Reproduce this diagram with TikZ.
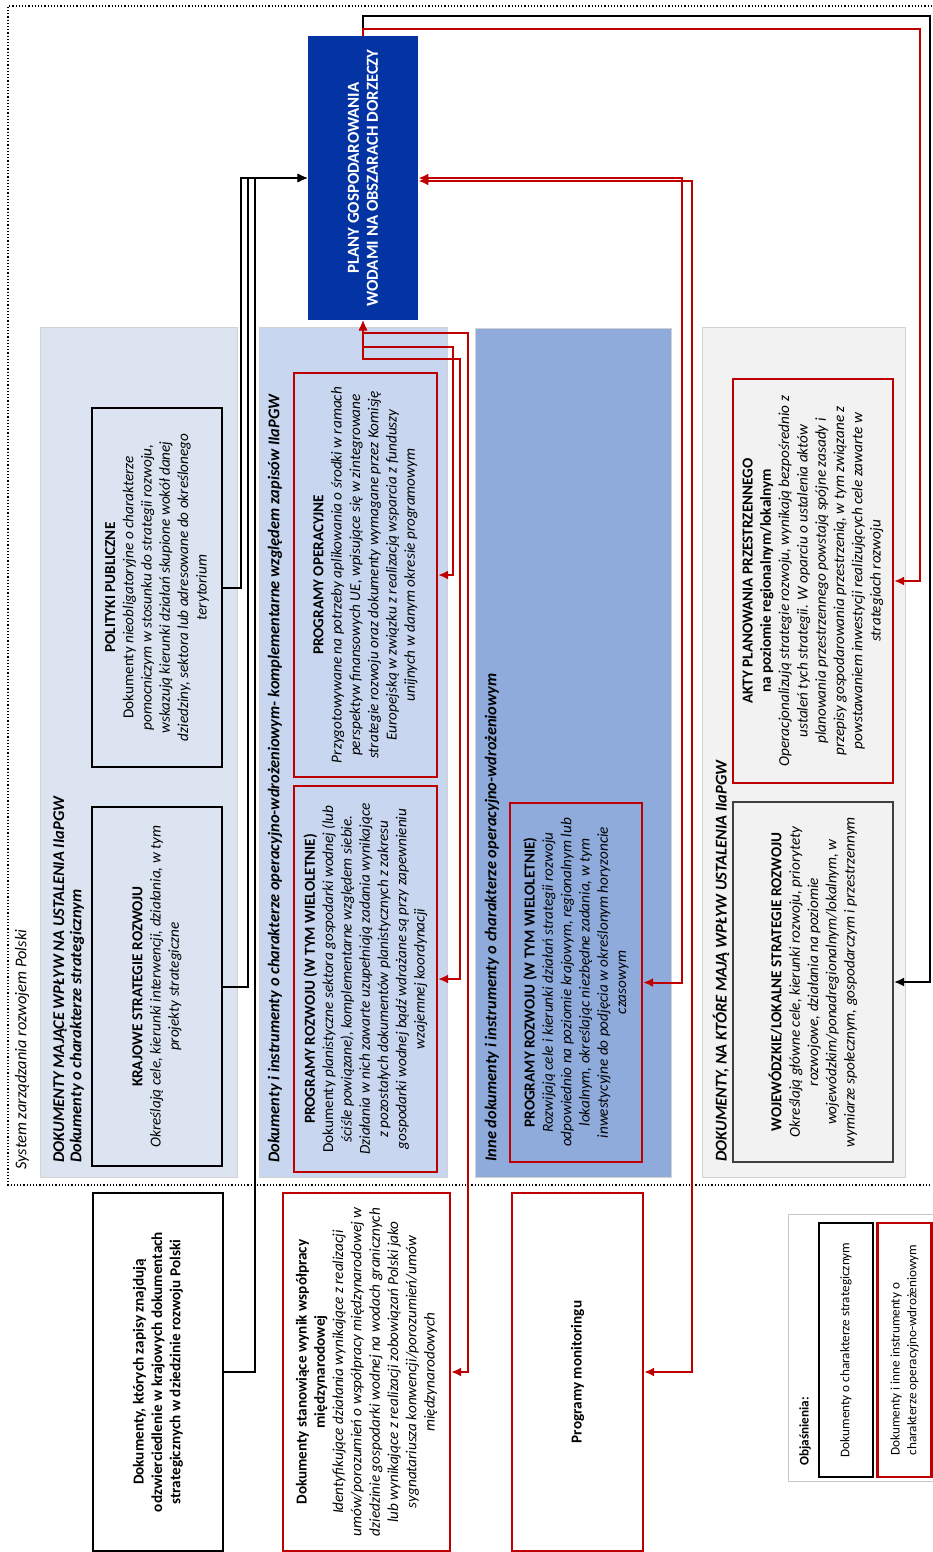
\documentclass[tikz,border=0pt]{standalone}
\usepackage{fontspec}
\setmainfont{Carlito}
\usetikzlibrary{arrows.meta,calc}

\definecolor{implred}{HTML}{C00000}
\definecolor{planblue}{HTML}{0434A4}
\definecolor{stratbg}{HTML}{DCE4F1}
\definecolor{implbg}{HTML}{C8D7EF}
\definecolor{otherbg}{HTML}{8FABDC}
\definecolor{localbg}{HTML}{F2F2F2}

\newcommand{\txtsize}{\fontsize{7.6}{9.15}\selectfont}
\newcommand{\headsize}{\fontsize{8.2}{9.6}\selectfont}
\newcommand{\legsize}{\fontsize{6.6}{8.3}\selectfont}
\newcommand{\doctitle}[1]{\textbf{\upshape #1}}

% one pixel of the sheet
\def\px{0.5pt}

\begin{document}
\begin{tikzpicture}[
    x=\px, y=-\px,
    % --- Styles ---
    % every box lies on its side, text reads from bottom to top
    turned/.style={rotate=90, inner sep=0pt, align=center, font=\txtsize},
    % #1 = length along the text (vertical on the sheet), #2 = across it
    dims/.style 2 args={minimum width=#1*\px, minimum height=#2*\px},
    panel/.style={turned, draw=gray!35, line width=0.4pt},
    heading/.style={turned, anchor=west, font=\headsize\bfseries\itshape},
    strat box/.style={turned, draw=black, line width=1.2pt, font=\txtsize\itshape},
    impl box/.style={turned, draw=implred, line width=1.1pt, font=\txtsize\itshape},
    plan box/.style={turned, fill=planblue, text=white,
                     font=\fontsize{8.4}{9.5}\selectfont\bfseries},
    % Black arrows for strategic documents, red ones for the operational
    strat link/.style={draw=black, line width=1pt, -{Latex[length=5pt,width=4.5pt]}},
    impl link/.style={draw=implred, line width=1pt,
                      {Latex[length=5pt,width=4.5pt]}-{Latex[length=5pt,width=4.5pt]}},
    impl one/.style={draw=implred, line width=1pt, -{Latex[length=5pt,width=4.5pt]}},
    frame line/.style={densely dotted, line width=0.6pt}
]

\useasboundingbox (0,0) rectangle (932,1552);
\fill[white] (0,0) rectangle (932,1552);

%================SYSTEM FRAME================
\draw[frame line] (932,6) -- (8,6) -- (8,1185) -- (932,1185);
\node[turned, anchor=west, font=\headsize\itshape] (syslabel) at (22,1170)
    {System zarządzania rozwojem Polski};

% --- Background panels ---
\node[panel, fill=stratbg, dims={850}{197}] (pstrat) at (138.5,752) {};
\node[panel, fill=implbg, dims={850}{188}] (pimpl) at (353,752) {};
\node[panel, fill=otherbg, dims={849}{196}] (pother) at (573,752.5) {};
\node[panel, fill=localbg, dims={850}{203}] (plocal) at (803.5,752) {};

\node[heading] (hstrat) at (60,1163) {DOKUMENTY MAJĄCE WPŁYW NA USTALENIA IIaPGW};
\node[heading] (hstratsub) at (77,1163) {Dokumenty o charakterze strategicznym};
\node[heading] (himpl) at (275,1163)
    {Dokumenty i instrumenty o charakterze operacyjno-wdrożeniowym- komplementarne względem zapisów IIaPGW};
\node[heading] (hother) at (492,1162)
    {Inne dokumenty i instrumenty o charakterze operacyjno-wdrożeniowym};
\node[heading] (hlocal) at (721,1162) {DOKUMENTY, NA KTÓRE MAJĄ WPŁYW USTALENIA IIaPGW};

% --- Central plan ---
\node[plan box, dims={284}{110}] (plany) at (363,178)
    {PLANY GOSPODAROWANIA\\WODAMI NA OBSZARACH DORZECZY};

% --- Strategic documents ---
\node[strat box, dims={359}{130}] (polit) at (157,587.5) {%
    \doctitle{POLITYKI PUBLICZNE}\\
    \textup{Dokumenty} nieobligatoryjne o charakterze\\
    pomocniczym w stosunku do strategii rozwoju,\\
    wskazują kierunki działań skupione wokół danej\\
    dziedziny, sektora lub adresowane do określonego\\
    terytorium};
\node[strat box, dims={359}{130}] (kraj) at (157,986.5) {%
    \doctitle{KRAJOWE STRATEGIE ROZWOJU}\\
    Określają cele, kierunki interwencji, działania, w tym\\
    projekty strategiczne};

% --- Operational documents ---
\node[impl box, dims={404}{143}] (po) at (365.5,575) {%
    \doctitle{PROGRAMY OPERACYJNE}\\
    Przygotowywane na potrzeby aplikowania o środki w ramach\\
    perspektyw finansowych UE,  wpisujące się w zintegrowane\\
    strategie rozwoju oraz dokumenty wymagane przez Komisję\\
    Europejską w związku z realizacją wsparcia z funduszy\\
    unijnych w danym okresie programowym};
\node[impl box, dims={386}{143}] (prw) at (365.5,979) {%
    \doctitle{PROGRAMY ROZWOJU (W TYM WIELOLETNIE)}\\
    \textup{Dokumenty} planistyczne sektora gospodarki wodnej (lub\\
    ściśle powiązane), komplementarne względem siebie.\\
    Działania w nich zawarte uzupełniają zadania wynikające\\
    z pozostałych dokumentów planistycznych z zakresu\\
    gospodarki wodnej bądź wdrażane są przy zapewnieniu\\
    wzajemnej koordynacji};
\node[impl box, dims={359}{132}] (prinne) at (576,982.5) {%
    \doctitle{PROGRAMY ROZWOJU (W TYM WIELOLETNIE)}\\
    Rozwijają cele i kierunki działań strategii rozwoju\\
    odpowiednio na poziomie krajowym, regionalnym lub\\
    lokalnym, określając niezbędne zadania, w tym\\
    inwestycyjne do podjęcia w określonym horyzoncie\\
    czasowym};

% --- Regional and local documents ---
\node[impl box, dims={404}{160}] (akty) at (813,581) {%
    \doctitle{AKTY PLANOWANIA PRZESTRZENNEGO}\\
    \doctitle{na poziomie regionalnym/lokalnym}\\
    Operacjonalizują strategie rozwoju, wynikają bezpośrednio z\\
    ustaleń tych strategii. W oparciu o ustalenia aktów\\
    planowania przestrzennego powstają spójne zasady i\\
    przepisy gospodarowania przestrzenią, w tym związane z\\
    powstawaniem inwestycji realizujących cele zawarte w\\
    strategiach rozwoju};
\node[strat box, draw=black!75, line width=1pt, dims={360}{160}] (woj) at (813,982) {%
    \doctitle{WOJEWÓDZKIE/LOKALNE STRATEGIE ROZWOJU}\\
    Określają główne cele, kierunki rozwoju, priorytety\\
    rozwojowe, działania na poziomie\\
    wojewódzkim/ponadregionalnym/lokalnym, w\\
    wymiarze społecznym, gospodarczym i przestrzennym};

% --- Outside the system ---
\node[strat box, font=\txtsize\bfseries, dims={358}{130}] (dokkraj) at (158,1372) {%
    Dokumenty, których zapisy znajdują\\
    odzwierciedlenie w krajowych dokumentach\\
    strategicznych  w dziedzinie rozwoju Polski};
\node[impl box, dims={358}{167}] (dokmiedz) at (366.5,1372) {%
    \doctitle{Dokumenty stanowiące wynik współpracy}\\
    \doctitle{międzynarodowej}\\
    Identyfikujące działania wynikające z realizacji\\
    umów/porozumień o współpracy międzynarodowej w\\
    dziedzinie gospodarki wodnej na wodach granicznych\\
    lub wynikające z realizacji zobowiązań Polski jako\\
    sygnatariusza konwencji/porozumień/umów\\
    międzynarodowych};
\node[impl box, font=\txtsize\bfseries, dims={358}{131}] (monit) at (577.5,1372)
    {Programy monitoringu};

% --- Legend ---
\node[turned, draw=gray!45, line width=0.5pt, fill=white, dims={267}{152}] (legend) at (864,1347.5) {};
\node[turned, anchor=west, font=\legsize\bfseries] (legtitle) at (805,1466) {Objaśnienia:};
\node[strat box, font=\legsize, line width=1.1pt, dims={254}{54}] (legstrat) at (846,1350)
    {Dokumenty o charakterze strategicznym};
\node[impl box, font=\legsize, align=left, dims={254}{54}] (legimpl) at (904.5,1350)
    {Dokumenty i inne instrumenty o\\charakterze operacyjno-wdrożeniowym};

%================CONNECTORS================
% strategic documents feed the plan from the left
\foreach \src/\dx in {polit/18, kraj/25, dokkraj/31} {
    \draw[strat link] (\src.south) -- ++(\dx,0) |- (plany.north);
}

% operational documents tied to the bottom of the plan
\foreach \src/\xx/\yy in {po/453/347, prw/460/359, dokmiedz/468/333} {
    \draw[impl link] (\src.south) -| (\xx,\yy) -| (plany.west);
}

% tied to the right side of the plan
\draw[impl link] (prinne.south) -| (682,178) -- (plany.south);
\draw[impl link] (monit.south) -| (692,181) -- ($(plany.south)+(0,3)$);

% the plan acts on regional and local documents
\draw[strat link] (plany.east) |- (930,16) |- (woj.south);
\draw[impl one] (plany.east) |- (920,29) |- (akty.south);

\end{tikzpicture}
\end{document}
